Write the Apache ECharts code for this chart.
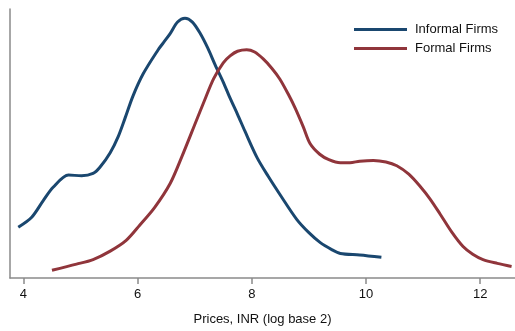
<!DOCTYPE html>
<html>
<head>
<meta charset="utf-8">
<script src="https://cdn.jsdelivr.net/npm/echarts@6/dist/echarts.min.js"></script>
<style>
  html, body { margin: 0; padding: 0; background: #ffffff; }
  #chart { width: 515px; height: 331px; }
</style>
</head>
<body>
<div id="chart"></div>
<script>
// Kernel density of log2 prices, informal vs formal firms
const informalX = [3.91, 4.145, 4.35, 4.52, 4.79, 5.02, 5.22, 5.34, 5.52, 5.66, 5.78, 5.92, 6.10, 6.36, 6.45, 6.57, 6.70, 6.83, 6.96, 7.09, 7.23, 7.36, 7.50, 7.62, 7.75, 7.88, 8.09, 8.29, 8.49, 8.79, 9.00, 9.20, 9.40, 9.55, 9.89, 10.27];
const informalY = [0.066, 0.079, 0.101, 0.118, 0.134, 0.133, 0.136, 0.144, 0.163, 0.184, 0.208, 0.237, 0.266, 0.297, 0.306, 0.318, 0.333, 0.338, 0.333, 0.319, 0.299, 0.277, 0.255, 0.234, 0.213, 0.191, 0.157, 0.132, 0.109, 0.076, 0.059, 0.046, 0.037, 0.032, 0.030, 0.027];

const formalX = [4.50, 4.93, 5.22, 5.52, 5.80, 6.04, 6.30, 6.57, 6.77, 7.03, 7.15, 7.33, 7.50, 7.62, 7.75, 7.91, 8.05, 8.20, 8.35, 8.49, 8.64, 8.76, 8.90, 9.02, 9.19, 9.35, 9.55, 9.72, 9.89, 10.13, 10.35, 10.54, 10.75, 10.95, 11.12, 11.30, 11.50, 11.70, 11.87, 12.05, 12.30, 12.55];
const formalY = [0.010, 0.018, 0.024, 0.035, 0.049, 0.069, 0.092, 0.123, 0.157, 0.205, 0.227, 0.259, 0.280, 0.289, 0.295, 0.297, 0.294, 0.285, 0.273, 0.259, 0.239, 0.221, 0.197, 0.175, 0.161, 0.154, 0.150, 0.150, 0.152, 0.153, 0.151, 0.146, 0.135, 0.119, 0.103, 0.083, 0.060, 0.041, 0.031, 0.024, 0.019, 0.015];

const xTicks = [4, 6, 8, 10, 12];
const seriesNames = ['Informal Firms', 'Formal Firms'];
const xTitle = 'Prices, INR (log base 2)';

const pairs = (xs, ys) => xs.map((x, i) => [x, ys[i]]);

const font = '"Liberation Sans", Arial, sans-serif';
const axisGray = '#8a8a8a';

const chart = echarts.init(document.getElementById('chart'), null, { renderer: 'canvas' });
chart.setOption({
  animation: false,
  backgroundColor: '#ffffff',
  grid: { left: 10, right: 0, top: 9, bottom: 49, containLabel: false },
  legend: {
    orient: 'vertical',
    left: 354,
    top: 23,
    padding: 0,
    itemWidth: 53,
    itemHeight: 3,
    itemGap: 6,
    icon: 'rect',
    textStyle: { fontFamily: font, fontSize: 13, color: '#111', padding: [0, 0, 0, 3] },
    data: seriesNames
  },
  xAxis: {
    type: 'value',
    min: 3.765,
    max: 12.61,
    name: xTitle,
    nameLocation: 'middle',
    nameGap: 35,
    nameTextStyle: { fontFamily: font, fontSize: 13, color: '#111' },
    axisLine: { show: true, lineStyle: { color: axisGray, width: 1.5 } },
    axisTick: { show: true, length: 6, customValues: xTicks, lineStyle: { color: axisGray, width: 1.5 } },
    axisLabel: { customValues: xTicks, margin: 10, fontFamily: font, fontSize: 13, color: '#111' },
    splitLine: { show: false }
  },
  yAxis: {
    type: 'value',
    min: 0,
    max: 0.35,
    axisLine: { show: true, lineStyle: { color: axisGray, width: 1.5 } },
    axisTick: { show: false },
    axisLabel: { show: false },
    splitLine: { show: false }
  },
  series: [
    {
      name: seriesNames[0],
      type: 'line',
      data: pairs(informalX, informalY),
      smooth: 0.3,
      showSymbol: false,
      color: '#1a476f',
      lineStyle: { color: '#1a476f', width: 3 }
    },
    {
      name: seriesNames[1],
      type: 'line',
      data: pairs(formalX, formalY),
      smooth: 0.3,
      showSymbol: false,
      color: '#90353b',
      lineStyle: { color: '#90353b', width: 3 }
    }
  ]
});
</script>
</body>
</html>
